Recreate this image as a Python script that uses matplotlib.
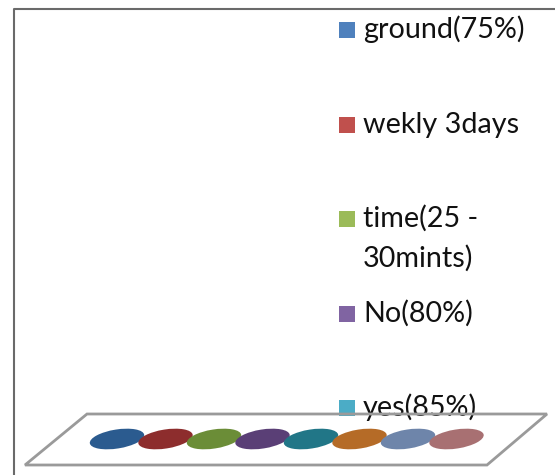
import matplotlib
matplotlib.use("Agg")
import matplotlib.pyplot as plt
from matplotlib.patches import Ellipse, Polygon, Rectangle

# ---- data ----
legend_labels = ["ground(75%)", "wekly 3days", "time(25 -\n30mints)", "No(80%)", "yes(85%)"]
legend_colors = ["#4F81BD", "#C0504D", "#9BBB59", "#8064A2", "#4BACC6"]
series_colors = ["#2B5B8F", "#8D2D2D", "#6B8D37", "#5A3F76",
                 "#217687", "#B56B27", "#6E85AA", "#A87072"]
values = [0, 0, 0, 0, 0, 0, 0, 0]   # zero-height cylinders (only tops visible)

W, H = 555, 475
fig = plt.figure(figsize=(W / 100, H / 100), dpi=100)
fig.patch.set_facecolor("white")
ax = fig.add_axes([0, 0, 1, 1])
ax.set_xlim(0, W)
ax.set_ylim(H, 0)
ax.axis("off")

# chart frame (left and top edges)
ax.plot([14, 14, W], [H, 9, 9], color="#6a6a6a", lw=1.5, zorder=1)

# legend
x_sq, sq = 339, 16
y0, step, line_h = 38, 94.5, 40
for i, (lab, col) in enumerate(zip(legend_labels, legend_colors)):
    yb = y0 + i * step
    ax.add_patch(Rectangle((x_sq, yb - 8 - sq / 2), sq, sq, facecolor=col,
                           edgecolor="none", zorder=2))
    for k, line in enumerate(lab.split("\n")):
        ax.text(x_sq + 24, yb + k * line_h, line, family="Lato", fontsize=20.7,
                color="#111111", va="baseline", ha="left", zorder=2)

# floor
floor = Polygon([(25, 465), (487, 465), (547, 414), (87, 414)], closed=True,
                fill=False, edgecolor="#9a9a9a", lw=2, zorder=3)
ax.add_patch(floor)

# cylinder tops
x_first, dx, y_base = 117, 48.5, 439
for i, (v, col) in enumerate(zip(values, series_colors)):
    ax.add_patch(Ellipse((x_first + i * dx, y_base - v), 55, 19, angle=-9,
                         facecolor=col, edgecolor="none", zorder=4 + i))

fig.savefig("out.png", dpi=100, facecolor="white")
